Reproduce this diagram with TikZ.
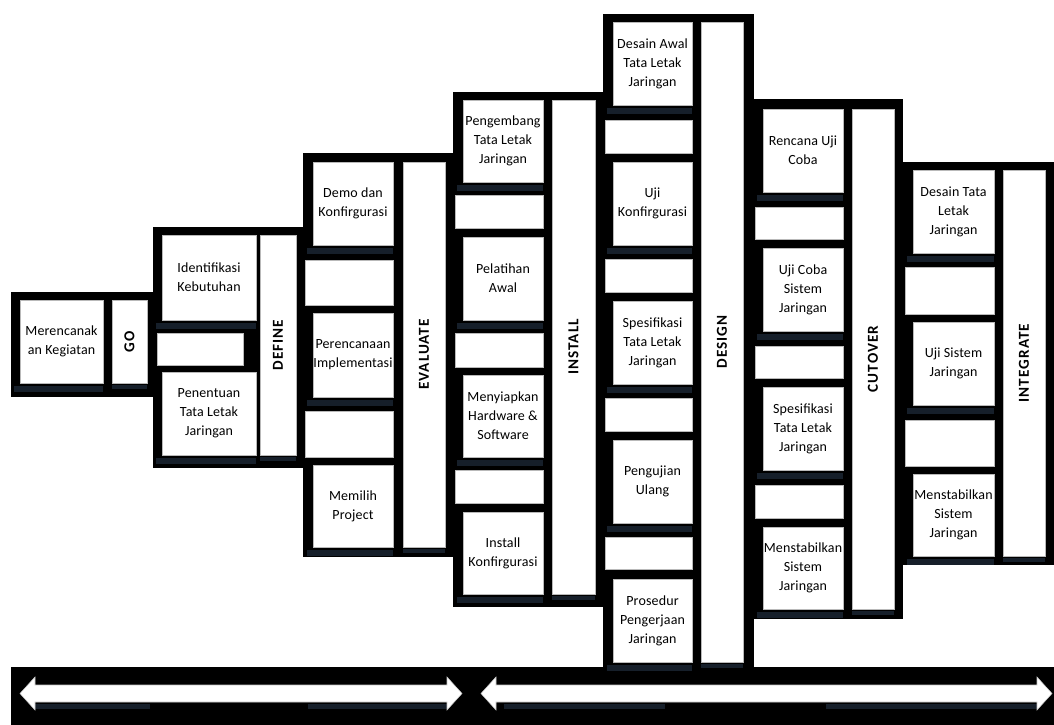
\documentclass[tikz,border=0pt]{standalone}
\usepackage{fontspec}
\setmainfont{Carlito}
\newfontfamily\taskfont[LetterSpace=1]{Carlito}
\newfontfamily\labfont[LetterSpace=7, UprightFont=* Bold]{Carlito}
\definecolor{shdc}{RGB}{22,31,42}
\tikzset{
  grp/.style={fill=black},
  boxline/.style={fill=white, draw=gray!55, line width=0.5pt},
  tasktext/.style={align=center, font=\taskfont\fontsize{10.5}{14.3}\selectfont, inner sep=0pt, text=black},
  labtext/.style={rotate=90, font=\labfont\fontsize{11.4}{13}\selectfont, inner sep=0pt, text=black},
  shd/.style={fill=shdc},
  arrowfill/.style={fill=white, draw=gray!45, line width=0.4pt}
}
% task box: name, x1, y1, x2, y2, text
\newcommand\tbox[6]{%
  \fill[shd] (#2-6,#5+3) rectangle (#4,#5+9);
  \draw[boxline] (#2,#3) rectangle (#4,#5);
  \node[tasktext] (#1) at ({(#2+#4)/2},{(#3+#5)/2}) {#6};}
% label box: name, x1, y1, x2, y2, text
\newcommand\lbox[6]{%
  \fill[shd] (#2,#5+2) rectangle (#4,#5+6);
  \draw[boxline] (#2,#3) rectangle (#4,#5);
  \node[labtext] (#1) at ({(#2+#4)/2},{(#3+#5)/2}) {#6};}
% filler: x1 y1 x2 y2
\newcommand\filler[4]{\draw[boxline] (#1,#2) rectangle (#3,#4);}
\begin{document}
\begin{tikzpicture}[x=0.75pt,y=-0.75pt]
\useasboundingbox (0,0) rectangle (1054,725);
% group backgrounds
\fill[grp] (11,292) rectangle (155,397);
\fill[grp] (153,227) rectangle (303,468);
\fill[grp] (303,153) rectangle (455,557);
\fill[grp] (453,92) rectangle (603,607);
\fill[grp] (603,14) rectangle (754,667);
\fill[grp] (754,99) rectangle (903,619);
\fill[grp] (903,162) rectangle (1054,565);
\fill[grp] (11,667) rectangle (1054,725);

% GO
\tbox{go1}{20}{300}{103}{383}{Merencanak\\an Kegiatan}
\lbox{go}{112}{300}{147}{383}{GO}

% DEFINE
\tbox{df1}{162}{235}{256}{320}{Identifikasi\\Kebutuhan}
\filler{157}{333}{243}{365}
\tbox{df2}{162}{372}{256}{455}{Penentuan\\Tata Letak\\Jaringan}
\lbox{define}{260}{235}{296}{455}{DEFINE}

% EVALUATE
\tbox{ev1}{313}{162}{393}{245}{Demo dan\\Konfirgurasi}
\filler{305}{260}{393}{305}
\tbox{ev2}{313}{313}{393}{397}{Perencanaan\\Implementasi}
\filler{305}{411}{393}{457}
\tbox{ev3}{313}{465}{393}{547}{Memilih\\Project}
\lbox{evaluate}{403}{162}{445}{547}{EVALUATE}

% INSTALL
\tbox{in1}{463}{100}{543}{182}{Pengembang\\Tata Letak\\Jaringan}
\filler{455}{195}{543}{228}
\tbox{in2}{463}{237}{543}{320}{Pelatihan\\Awal}
\filler{455}{333}{543}{367}
\tbox{in3}{463}{375}{543}{457}{Menyiapkan\\Hardware \&\\Software}
\filler{455}{470}{543}{503}
\tbox{in4}{463}{512}{543}{594}{Install\\Konfirgurasi}
\lbox{install}{552}{100}{595}{594}{INSTALL}

% DESIGN
\tbox{de1}{613}{22}{692}{105}{Desain Awal\\Tata Letak\\Jaringan}
\filler{605}{120}{692}{153}
\tbox{de2}{613}{162}{692}{245}{Uji\\Konfirgurasi}
\filler{605}{259}{692}{292}
\tbox{de3}{613}{301}{692}{384}{Spesifikasi\\Tata Letak\\Jaringan}
\filler{605}{398}{692}{431}
\tbox{de4}{613}{440}{692}{523}{Pengujian\\Ulang}
\filler{605}{537}{692}{569}
\tbox{de5}{613}{579}{692}{662}{Prosedur\\Pengerjaan\\Jaringan}
\lbox{design}{701}{22}{743}{662}{DESIGN}

% CUTOVER
\tbox{cu1}{763}{109}{843}{192}{Rencana Uji\\Coba}
\filler{755}{207}{843}{239}
\tbox{cu2}{763}{248}{843}{331}{Uji Coba\\Sistem\\Jaringan}
\filler{755}{346}{843}{378}
\tbox{cu3}{763}{387}{843}{470}{Spesifikasi\\Tata Letak\\Jaringan}
\filler{755}{485}{843}{518}
\tbox{cu4}{763}{527}{843}{609}{Menstabilkan\\Sistem\\Jaringan}
\lbox{cutover}{852}{109}{894}{609}{CUTOVER}

% INTEGRATE
\tbox{ig1}{913}{170}{994}{253}{Desain Tata\\Letak\\Jaringan}
\filler{905}{267}{994}{314}
\tbox{ig2}{913}{322}{994}{405}{Uji Sistem\\Jaringan}
\filler{905}{420}{994}{466}
\tbox{ig3}{913}{474}{994}{556}{Menstabilkan\\Sistem\\Jaringan}
\lbox{integrate}{1003}{170}{1045}{556}{INTEGRATE}

% bottom arrows
\fill[shd] (35,704) rectangle (150,709);
\fill[shd] (308,704) rectangle (447,709);
\fill[shd] (504,704) rectangle (665,709);
\fill[shd] (826,704) rectangle (1038,709);
\draw[arrowfill] (20,693.5) -- (35,677) -- (35,685) -- (447,685) -- (447,677) -- (462,693.5)
  -- (447,710) -- (447,702) -- (35,702) -- (35,710) -- cycle;
\draw[arrowfill] (481,693.5) -- (496,677) -- (496,685) -- (1037,685) -- (1037,677) -- (1052,693.5)
  -- (1037,710) -- (1037,702) -- (496,702) -- (496,710) -- cycle;
\end{tikzpicture}
\end{document}
